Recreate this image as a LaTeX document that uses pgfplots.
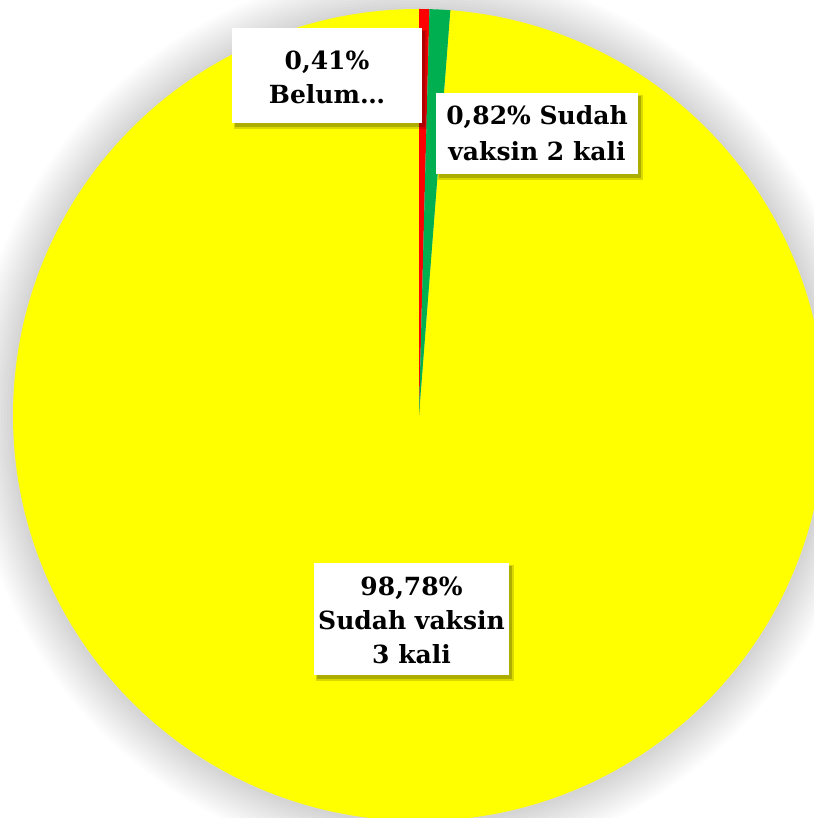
\documentclass[border=0pt]{standalone}
\usepackage{pgfplots}
\usepackage{pgfplotstable}
\pgfplotsset{compat=1.18}
\usepackage{fontspec}
\newfontfamily\labelfont{DejaVu Serif}
\definecolor{pieyellow}{RGB}{255,255,0}
\definecolor{piered}{RGB}{255,0,0}
\definecolor{piegreen}{RGB}{0,176,80}

\pgfplotstableread{
label value
Belum 0.41
Dua 0.82
Tiga 98.78
}\piedata

\begin{document}
\begin{tikzpicture}
\pgfplotstablegetelem{0}{value}\of\piedata \let\va\pgfplotsretval
\pgfplotstablegetelem{1}{value}\of\piedata \let\vb\pgfplotsretval
\pgfplotstablegetelem{2}{value}\of\piedata \let\vc\pgfplotsretval
\pgfmathsetmacro\tot{\va+\vb+\vc}
\pgfmathsetmacro\aA{90-360*\va/\tot}
\pgfmathsetmacro\aB{\aA-360*\vb/\tot}
\def\R{406bp}
\begin{axis}[
  width=814bp, height=818bp, scale only axis,
  xmin=0, xmax=814, ymin=0, ymax=818,
  hide axis, clip=true,
  axis background/.style={fill=white},
]
% soft shadow halo
\pgfplotsinvokeforeach{3,6,...,42}{
  \fill[black,opacity=0.012] (axis cs:419,402) circle[radius=406bp+#1bp];
}
% slices
\fill[pieyellow] (axis cs:419,403) -- ++(\aB:\R) arc[start angle=\aB, end angle=-270, radius=\R] -- cycle;
\fill[piered] (axis cs:419,403) -- ++(90:\R) arc[start angle=90, end angle=\aA, radius=\R] -- cycle;
\fill[piegreen] (axis cs:419,403) -- ++(\aA:\R) arc[start angle=\aA, end angle=\aB, radius=\R] -- cycle;

% label boxes with shadows
\fill[black,opacity=0.15] (axis cs:234,788) rectangle (axis cs:427,689);
\fill[black,opacity=0.2] (axis cs:235,787) rectangle (axis cs:425,691);
\fill[white] (axis cs:232,790) rectangle (axis cs:422,695);

\fill[black,opacity=0.15] (axis cs:438,723) rectangle (axis cs:643,638);
\fill[black,opacity=0.2] (axis cs:439,722) rectangle (axis cs:641,640);
\fill[white] (axis cs:436,725) rectangle (axis cs:638,644);

\fill[black,opacity=0.15] (axis cs:316,253) rectangle (axis cs:514,137);
\fill[black,opacity=0.2] (axis cs:317,252) rectangle (axis cs:512,139);
\fill[white] (axis cs:314,255) rectangle (axis cs:509,143);

\node[align=center, font=\labelfont\bfseries\fontsize{25bp}{34bp}\selectfont, inner sep=0pt]
  at (axis cs:327,741) {0,41\%\\Belum…};
\node[align=center, font=\labelfont\bfseries\fontsize{25bp}{36bp}\selectfont, inner sep=0pt]
  at (axis cs:537,684.5) {0,82\% Sudah\\vaksin 2 kali};
\node[align=center, font=\labelfont\bfseries\fontsize{25bp}{34bp}\selectfont, inner sep=0pt]
  at (axis cs:411.5,198) {98,78\%\\Sudah vaksin\\3 kali};
\end{axis}
\end{tikzpicture}
\end{document}
